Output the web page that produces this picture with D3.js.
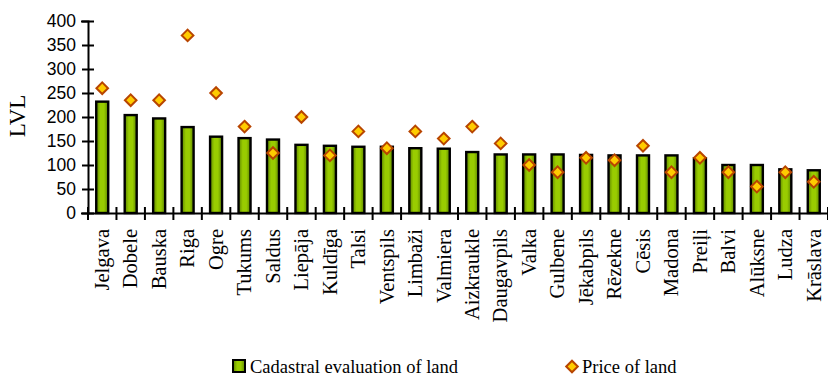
<!DOCTYPE html>
<html>
<head>
<meta charset="utf-8">
<script src="https://cdn.jsdelivr.net/npm/d3@7/dist/d3.min.js"></script>
<style>
  html, body { margin: 0; padding: 0; background: #fff; }
  svg { display: block; }
</style>
</head>
<body>
<svg id="chart" width="828" height="376"></svg>
<script>
// Districts, ordered by cadastral value
const districts = ["Jelgava","Dobele","Bauska","Riga","Ogre","Tukums","Saldus","Liepāja","Kuldīga","Talsi",
  "Ventspils","Limbaži","Valmiera","Aizkraukle","Daugavpils","Valka","Gulbene","Jēkabpils","Rēzekne","Cēsis",
  "Madona","Preiļi","Balvi","Alūksne","Ludza","Krāslava"];

// Cadastral evaluation of land, LVL
const cadastral = [232,204,197,179,159,156,153,142,140,138,138,135,134,127,122,122,122,121,120,120,120,114,100,100,91,89];

// Price of land, LVL
const price = [260,235,235,370,250,180,125,200,120,170,135,170,155,180,145,100,85,115,110,140,85,115,85,55,85,65];

const yTicks = [0,50,100,150,200,250,300,350,400];

const svg = d3.select("#chart");

const x = d3.scaleBand().domain(districts).range([88, 828]).padding(0);
const y = d3.scaleLinear().domain([0, 400]).range([213, 21]);

const defs = svg.append("defs");
const grad = defs.append("linearGradient").attr("id", "barFill")
  .attr("x1", "0%").attr("x2", "100%").attr("y1", "0%").attr("y2", "0%");
grad.append("stop").attr("offset", "0%").attr("stop-color", "#5c8500");
grad.append("stop").attr("offset", "35%").attr("stop-color", "#99cc00");
grad.append("stop").attr("offset", "65%").attr("stop-color", "#99cc00");
grad.append("stop").attr("offset", "100%").attr("stop-color", "#5c8500");

const barW = 12;

// Bars
svg.append("g").selectAll("rect").data(districts).join("rect")
  .attr("x", d => x(d) + x.bandwidth() / 2 - barW / 2)
  .attr("y", (d, i) => y(cadastral[i]))
  .attr("width", barW)
  .attr("height", (d, i) => y(0) - y(cadastral[i]))
  .attr("fill", "url(#barFill)")
  .attr("stroke", "#000")
  .attr("stroke-width", 2.4);

// Axes
const yAxis = d3.axisLeft(y).tickValues(yTicks).tickSize(7).tickPadding(5);
const gy = svg.append("g").attr("transform", "translate(88,0)").call(yAxis);
gy.select(".domain").attr("stroke", "#000").attr("stroke-width", 2);
gy.selectAll(".tick line").attr("x1", 6).attr("x2", -6).attr("stroke", "#000").attr("stroke-width", 2);
gy.selectAll(".tick text")
  .attr("font-family", "'Liberation Sans', Arial, sans-serif")
  .attr("font-size", 17.5).attr("fill", "#000");

const xAxis = d3.axisBottom(x).tickSize(0).tickFormat("");
const gx = svg.append("g").attr("transform", `translate(0,${y(0)})`).call(xAxis);
gx.select(".domain").attr("stroke", "#000").attr("stroke-width", 2);
gx.selectAll(".tick").remove();

// Cross tick marks at category boundaries
const bounds = districts.map(d => x(d)).concat([x.range()[1]]);
svg.append("g").selectAll("line").data(bounds).join("line")
  .attr("x1", d => d).attr("x2", d => d)
  .attr("y1", y(0) - 6).attr("y2", y(0) + 7)
  .attr("stroke", "#000").attr("stroke-width", 2);

// Category labels
svg.append("g").selectAll("text").data(districts).join("text")
  .attr("transform", d => `translate(${x(d) + x.bandwidth() / 2},229) rotate(-90)`)
  .attr("text-anchor", "end")
  .attr("dy", "0.33em")
  .attr("font-family", "'Liberation Serif', 'Times New Roman', serif")
  .attr("font-size", 20.5)
  .attr("fill", "#000")
  .text(d => d);

// Price markers
const diamond = s => `M0,${-s}L${s},0L0,${s}L${-s},0Z`;
svg.append("g").selectAll("path").data(districts).join("path")
  .attr("transform", (d, i) => `translate(${x(d) + x.bandwidth() / 2},${y(price[i])})`)
  .attr("d", diamond(5.8))
  .attr("fill", "#ffcc00")
  .attr("stroke", "#b84500")
  .attr("stroke-width", 2);

// Y axis title
svg.append("text")
  .attr("transform", "translate(17,116) rotate(-90)")
  .attr("text-anchor", "middle")
  .attr("dy", "0.35em")
  .attr("font-family", "'Liberation Serif', 'Times New Roman', serif")
  .attr("font-size", 23)
  .attr("fill", "#000")
  .text("LVL");

// Legend
const legend = svg.append("g");
legend.append("rect").attr("x", 233).attr("y", 360).attr("width", 12).attr("height", 12)
  .attr("fill", "url(#barFill)").attr("stroke", "#000").attr("stroke-width", 2);
legend.append("text").attr("x", 250).attr("y", 372.5)
  .attr("font-family", "'Liberation Serif', 'Times New Roman', serif")
  .attr("font-size", 18.5).attr("fill", "#000")
  .text("Cadastral evaluation of land");
legend.append("path").attr("transform", "translate(572,366.5)")
  .attr("d", diamond(5.8))
  .attr("fill", "#ffcc00").attr("stroke", "#b84500").attr("stroke-width", 2);
legend.append("text").attr("x", 582).attr("y", 372.5)
  .attr("font-family", "'Liberation Serif', 'Times New Roman', serif")
  .attr("font-size", 18.5).attr("fill", "#000")
  .text("Price of land");
</script>
</body>
</html>
